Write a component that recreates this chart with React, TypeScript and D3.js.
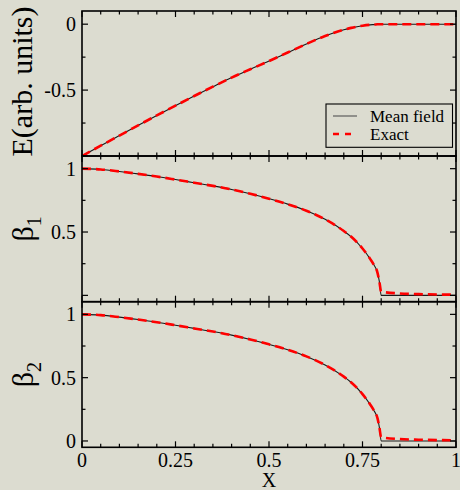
import React from "react";
import * as d3 from "d3";

const xs = [0, 0.05, 0.1, 0.15, 0.2, 0.25, 0.3, 0.35, 0.4, 0.45, 0.5, 0.55, 0.6, 0.65, 0.7, 0.72, 0.75, 0.77, 0.78, 0.79, 0.795, 0.8, 0.85, 0.9, 0.95, 1];
const energyMF = [-1, -0.922, -0.845, -0.768, -0.692, -0.618, -0.545, -0.474, -0.405, -0.342, -0.28, -0.215, -0.15, -0.09, -0.042, -0.028, -0.012, -0.005, -0.003, -0.001, 0, 0, 0, 0, 0, 0];
const energyEx = [-1, -0.922, -0.845, -0.768, -0.692, -0.618, -0.545, -0.474, -0.405, -0.342, -0.28, -0.215, -0.15, -0.09, -0.042, -0.028, -0.012, -0.005, -0.003, -0.001, 0, 0, 0, 0, 0, 0];
const beta1MF = [1, 0.994, 0.978, 0.959, 0.938, 0.914, 0.889, 0.864, 0.836, 0.802, 0.763, 0.72, 0.668, 0.6, 0.508, 0.462, 0.37, 0.29, 0.243, 0.18, 0.11, 0, 0, 0, 0, 0];
const beta1Ex = [1, 0.994, 0.978, 0.959, 0.938, 0.914, 0.889, 0.864, 0.836, 0.802, 0.763, 0.72, 0.668, 0.6, 0.508, 0.462, 0.37, 0.29, 0.243, 0.18, 0.11, 0.03, 0.015, 0.01, 0.007, 0.005];
const beta2MF = [1, 0.994, 0.978, 0.959, 0.938, 0.914, 0.889, 0.864, 0.836, 0.802, 0.763, 0.72, 0.668, 0.6, 0.508, 0.462, 0.37, 0.29, 0.243, 0.18, 0.11, 0, 0, 0, 0, 0];
const beta2Ex = [1, 0.994, 0.978, 0.959, 0.938, 0.914, 0.889, 0.864, 0.836, 0.802, 0.763, 0.72, 0.668, 0.6, 0.508, 0.462, 0.37, 0.29, 0.243, 0.18, 0.11, 0.03, 0.015, 0.01, 0.007, 0.005];

const xTickLabels = ["0", "0.25", "0.5", "0.75", "1"];
const xTickValues = [0, 0.25, 0.5, 0.75, 1];
const legendLabels = ["Mean field", "Exact"];

const BG = "#dcdcd0";
const FONT = "Liberation Serif, Times New Roman, serif";

const W = 460, H = 490;
const left = 82, right = 456;
const panels = [
  { top: 11, bottom: 156, domain: [-1, 0.1], labels: [[0, "0"], [-0.5, "-0.5"]], mf: energyMF, ex: energyEx, major: [-1, -0.5, 0], minor: [-0.75, -0.25] },
  { top: 156, bottom: 301.7, domain: [-0.05, 1.1], labels: [[1, "1"], [0.5, "0.5"]], mf: beta1MF, ex: beta1Ex, major: [0, 0.5, 1], minor: [0.25, 0.75] },
  { top: 301.7, bottom: 447.3, domain: [-0.05, 1.1], labels: [[1, "1"], [0.5, "0.5"], [0, "0"]], mf: beta2MF, ex: beta2Ex, major: [0, 0.5, 1], minor: [0.25, 0.75] },
];

export default function App() {
  const x = d3.scaleLinear().domain([0, 1]).range([left, right]);
  const xMinor = d3.range(0, 1.0001, 0.05);
  const MAJ = 6, MIN = 3.5;

  return (
    <svg width={W} height={H} style={{ position: "absolute", left: 0, top: 0, background: BG }} fontFamily={FONT}>
      <rect x={0} y={0} width={W} height={H} fill={BG} />
      {panels.map((p, pi) => {
        const y = d3.scaleLinear().domain(p.domain).range([p.bottom, p.top]);
        const line = d3.line<number>().x((_, i) => x(xs[i])).y((d) => y(d)).curve(d3.curveMonotoneX);
        return (
          <g key={pi}>
            <path d={line(p.mf) || ""} fill="none" stroke="#1a1a1a" strokeWidth={1.1} />
            <path d={line(p.ex) || ""} fill="none" stroke="#ff0000" strokeWidth={2.6} strokeDasharray="9,5" />
            <rect x={left} y={p.top} width={right - left} height={p.bottom - p.top} fill="none" stroke="#000" strokeWidth={1.6} />
            {xMinor.map((v, i) => {
              const isMaj = Math.abs(v * 4 - Math.round(v * 4)) < 1e-6;
              const len = isMaj ? MAJ : MIN;
              return (
                <g key={i} stroke="#000" strokeWidth={1.2}>
                  <line x1={x(v)} x2={x(v)} y1={p.bottom} y2={p.bottom - len} />
                  <line x1={x(v)} x2={x(v)} y1={p.top} y2={p.top + len} />
                </g>
              );
            })}
            {[...p.major.map((v) => [v, MAJ]), ...p.minor.map((v) => [v, MIN])].map(([v, len], i) => (
              <g key={"y" + i} stroke="#000" strokeWidth={1.2}>
                <line x1={left} x2={left + len} y1={y(v)} y2={y(v)} />
                <line x1={right} x2={right - len} y1={y(v)} y2={y(v)} />
              </g>
            ))}
            {p.labels.map(([v, t], i) => (
              <text key={"l" + i} x={76} y={y(v as number)} dy="0.35em" textAnchor="end" fontSize={20} fill="#000" fontFamily={FONT}>{t}</text>
            ))}
          </g>
        );
      })}
      {xTickValues.map((v, i) => (
        <text key={i} x={x(v)} y={467} textAnchor="middle" fontSize={20} fill="#000" fontFamily={FONT}>{xTickLabels[i]}</text>
      ))}
      <text x={x(0.5)} y={487} textAnchor="middle" fontSize={20} fill="#000" fontFamily={FONT}>X</text>
      <text transform={`translate(32,${(11 + 156) / 2 - 2}) rotate(-90)`} textAnchor="middle" fontSize={30} fill="#000" fontFamily={FONT}>E(arb. units)</text>
      <text transform={`translate(33,${(156 + 301.7) / 2}) rotate(-90)`} textAnchor="middle" fontSize={30} fill="#000" fontFamily={FONT}>β<tspan fontSize={20} dy={8}>1</tspan></text>
      <text transform={`translate(33,${(301.7 + 447.3) / 2}) rotate(-90)`} textAnchor="middle" fontSize={30} fill="#000" fontFamily={FONT}>β<tspan fontSize={20} dy={8}>2</tspan></text>
      <g>
        <rect x={326} y={104} width={126.5} height={43.3} fill={BG} stroke="#000" strokeWidth={1.1} />
        <line x1={333} x2={357} y1={116} y2={116} stroke="#666" strokeWidth={1.3} />
        <line x1={333} x2={357} y1={134} y2={134} stroke="#ff0000" strokeWidth={2.6} strokeDasharray="6,6" />
        <text x={370} y={116} dy="0.35em" fontSize={17} fill="#000" fontFamily={FONT}>{legendLabels[0]}</text>
        <text x={370} y={134} dy="0.35em" fontSize={17} fill="#000" fontFamily={FONT}>{legendLabels[1]}</text>
      </g>
    </svg>
  );
}
